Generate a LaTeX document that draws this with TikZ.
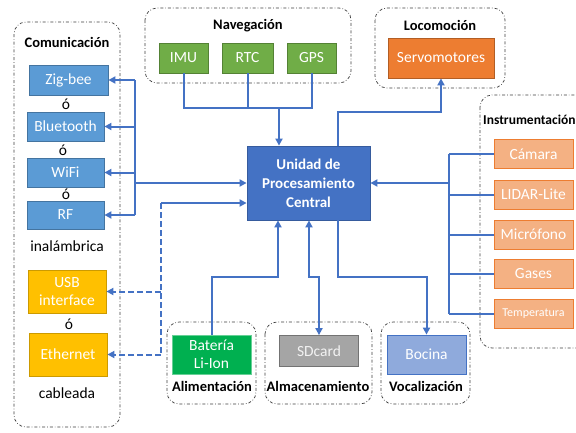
\documentclass[tikz,border=0pt]{standalone}
\usepackage{fontspec}
\setmainfont{Carlito}
\usetikzlibrary{arrows.meta}
\definecolor{cbar}{HTML}{4472C4}
\definecolor{cblue}{HTML}{5B9BD5}
\definecolor{cgreen}{HTML}{70AD47}
\definecolor{corange}{HTML}{ED7D31}
\definecolor{csalmon}{HTML}{F4B183}
\definecolor{cgold}{HTML}{FFC000}
\definecolor{cbat}{HTML}{00B050}
\definecolor{cgray}{HTML}{A5A5A5}
\definecolor{cbocina}{HTML}{8FAADC}
\tikzset{
  box/.style={draw, line width=0.8pt, text=white, align=center, inner sep=1pt,
    font=\fontsize{15.5}{17}\selectfont},
  group/.style={draw=black!75, line width=0.7pt, dash dot, rounded corners=12pt},
  title/.style={font=\fontsize{14.5}{16}\selectfont\bfseries, inner sep=0pt},
  lbl/.style={font=\fontsize{15.5}{17}\selectfont, inner sep=0pt},
  conn/.style={draw=cbar, line width=2pt, -{Triangle[length=7pt,width=7pt]}},
  line/.style={draw=cbar, line width=2pt},
  dconn/.style={conn, dash pattern=on 6pt off 3pt}
}
\begin{document}
\begin{tikzpicture}[x=1pt,y=-1pt]
  \useasboundingbox (0,0) rectangle (576,432);
  \clip (0,0) rectangle (576,432);
  \fill[white] (0,0) rectangle (576,432);
  % grupos
  \draw[group] (14,22) rectangle (120,427);
  \draw[group] (145,8) rectangle (351,83);
  \draw[group] (375,8) rectangle (505,88);
  \draw[group] (480,95) rectangle (600,348);
  \draw[group] (167,322) rectangle (256,404);
  \draw[group] (265,322) rectangle (372,404);
  \draw[group] (381,322) rectangle (470,404);
  \node[title] (tcom) at (67,42) {Comunicación};
  \node[title] (tnav) at (248,26) {Navegación};
  \node[title] (tloc) at (440,25) {Locomoción};
  \node[title, font=\fontsize{13.5}{15}\selectfont\bfseries, anchor=west] (tins) at (483,120) {Instrumentación};
  \node[title] (tali) at (212,386) {Alimentación};
  \node[title] (talm) at (318,386) {Almacenamiento};
  \node[title] (tvoc) at (426,386) {Vocalización};
  % bloques
  \node[box, fill=cbar, draw=cbar!80!black, minimum width=123pt, minimum height=74pt,
    font=\fontsize{15}{19}\selectfont\bfseries] (cpu) at (308.5,183) {Unidad de\\Procesamiento\\Central};
  \node[box, fill=cblue, draw=cblue!75!black, minimum width=79pt, minimum height=30pt] (zig) at (68.5,80) {Zig-bee};
  \node[box, fill=cblue, draw=cblue!75!black, minimum width=77pt, minimum height=29pt] (blue) at (65.5,126.5) {Bluetooth};
  \node[box, fill=cblue, draw=cblue!75!black, minimum width=77pt, minimum height=29pt] (wifi) at (65.5,172.5) {WiFi};
  \node[box, fill=cblue, draw=cblue!75!black, minimum width=77pt, minimum height=28pt] (rf) at (65.5,215) {RF};
  \node[lbl] (o1) at (66,104) {ó};
  \node[lbl] (o2) at (63,150) {ó};
  \node[lbl] (o3) at (66,194) {ó};
  \node[lbl] (inal) at (67,246) {inalámbrica};
  \node[box, fill=cgold, draw=cgold!80!black, minimum width=78pt, minimum height=43pt,
    font=\fontsize{15.5}{18}\selectfont] (usb) at (67,291.5) {USB\\interface};
  \node[lbl] (o4) at (69,324) {ó};
  \node[box, fill=cgold, draw=cgold!80!black, minimum width=78pt, minimum height=43pt] (eth) at (68,354.5) {Ethernet};
  \node[lbl] (cabl) at (67,393) {cableada};
  \node[box, fill=cgreen, draw=cgreen!75!black, minimum width=49pt, minimum height=30pt] (imu) at (183.5,58) {IMU};
  \node[box, fill=cgreen, draw=cgreen!75!black, minimum width=51pt, minimum height=30pt] (rtc) at (247.5,58) {RTC};
  \node[box, fill=cgreen, draw=cgreen!75!black, minimum width=49pt, minimum height=30pt] (gps) at (311.5,58) {GPS};
  \node[box, fill=corange, draw=corange!75!black, minimum width=106pt, minimum height=40pt] (servo) at (441,58) {Servomotores};
  \node[box, fill=csalmon, draw=corange, minimum width=79pt, minimum height=29pt] (cam) at (533.5,154) {Cámara};
  \node[box, fill=csalmon, draw=corange, minimum width=79pt, minimum height=29pt] (lidar) at (533.5,194.5) {LIDAR-Lite};
  \node[box, fill=csalmon, draw=corange, minimum width=79pt, minimum height=29pt] (mic) at (533.5,234.5) {Micrófono};
  \node[box, fill=csalmon, draw=corange, minimum width=79pt, minimum height=29pt] (gas) at (533.5,274) {Gases};
  \node[box, fill=csalmon, draw=corange, minimum width=79pt, minimum height=29pt,
    font=\fontsize{12}{14}\selectfont] (temp) at (533.5,313.5) {Temperatura};
  \node[box, fill=cbat, draw=cbat!60!white, minimum width=79pt, minimum height=39pt,
    font=\fontsize{15.5}{18}\selectfont] (bat) at (211.5,354.5) {Batería\\Li-Ion};
  \node[box, fill=cgray, draw=cgray!70!black, text=white!90!gray, minimum width=79pt, minimum height=31pt] (sd) at (319,351) {SDcard};
  \node[box, fill=cbocina, draw=cbar, minimum width=79pt, minimum height=39pt] (boc) at (426.5,354.5) {Bocina};
  % conexiones
  \coordinate (wbus) at (135,183);
  \coordinate (cbus) at (161,203);
  \coordinate (nbus) at (279,108);
  \coordinate (loc) at (338,112);
  \coordinate (ibus) at (449,183);
  \coordinate (pwr) at (278,277);
  \coordinate (mem) at (309,277);
  \coordinate (voc) at (338,277);
  \draw[line] (wbus |- zig.east) -- (wbus |- rf.east);
  \foreach \n in {zig,blue,wifi,rf}
    \draw[conn] (wbus |- \n.east) -- (\n.east);
  \draw[conn] (wbus) -- (cpu.west |- wbus);
  \draw[conn] (cbus) -- (cpu.west |- cbus);
  \draw[line, dash pattern=on 6pt off 3pt] (cbus) -- (cbus |- eth.east);
  \draw[dconn] (cbus |- usb.east) -- (usb.east);
  \draw[dconn] (cbus |- eth.east) -- (eth.east);
  \draw[line] (imu.south) |- (nbus) -| (gps.south);
  \draw[line] (rtc.south) -- (rtc.south |- nbus);
  \draw[conn] (nbus) -- (cpu.north -| nbus);
  \draw[conn] (cpu.north -| loc) -- (loc) -| (servo.south);
  \draw[line] (ibus |- cam.west) -- (ibus |- temp.west);
  \foreach \n in {cam,lidar,mic,gas,temp}
    \draw[line] (ibus |- \n.west) -- (\n.west);
  \draw[conn] (ibus) -- (cpu.east);
  \draw[conn] (bat.north) |- (pwr) -- (cpu.south -| pwr);
  \draw[conn, {Triangle[length=7pt,width=7pt]}-{Triangle[length=7pt,width=7pt]}] (cpu.south -| mem) -- (mem) -| (sd.north);
  \draw[conn] (cpu.south -| voc) -- (voc) -| (boc.north);
\end{tikzpicture}
\end{document}
